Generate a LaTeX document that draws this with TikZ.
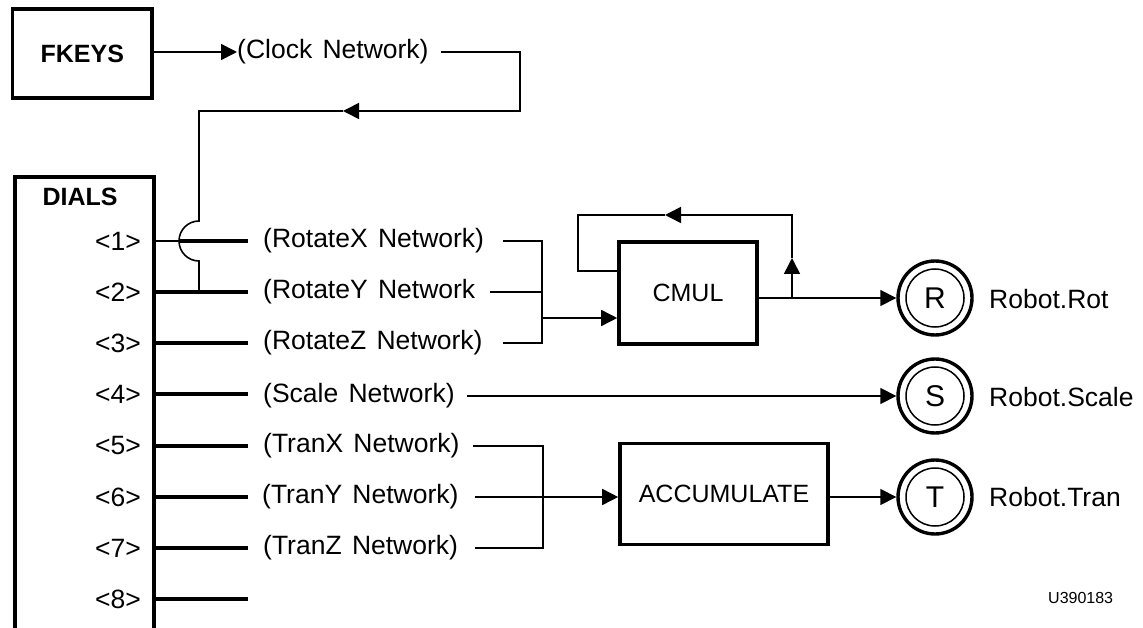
\documentclass[tikz,border=0pt]{standalone}
\usepackage{fontspec}
\setmainfont{Liberation Sans}[WordSpace=1.4]
\usetikzlibrary{arrows.meta}
\begin{document}
\begin{tikzpicture}[x=1pt,y=-1pt,
  conn/.style={line width=1.6pt},
  heavy/.style={line width=3.4pt},
  tip/.style={-{Triangle[length=16pt,width=16pt]}},
  box/.style={draw, rectangle, line width=3.6pt, inner sep=0pt, font=\fontsize{25}{30}\selectfont},
  lbl/.style={inner sep=0pt, font=\fontsize{26.5}{30}\selectfont},
  circ/.style={draw, circle, line width=3.4pt, minimum size=74pt, inner sep=0pt, font=\fontsize{30}{34}\selectfont},
  inner/.style={line width=1.5pt}
]
\useasboundingbox (0,0) rectangle (1143,628);
\clip (0,0) rectangle (1143,628);

% FKEYS and clock network
\node[box, font=\fontsize{25}{30}\selectfont\bfseries, minimum width=139.5pt, minimum height=89pt] (fk) at (82.25,53.5) {FKEYS};
\node[lbl, anchor=west] (clk) at (237,52) {(Clock Network)};
\draw[conn, tip] (fk.east |- clk.west) -- (clk.west);

\coordinate (ck0) at (441,52);
\coordinate (ck1) at (520,52);
\coordinate (ck2) at (520,111);
\coordinate (ck3) at (343,111);
\coordinate (ck4) at (199,111);
\coordinate (j1) at (199,221);
\coordinate (j3) at (199,292);
\draw[conn, tip] (ck0) -- (ck1) -- (ck2) -- (ck3);
\draw[conn] (ck3) -- (ck4) -- (j1) arc[start angle=90, end angle=270, radius=20pt] -- (j3);

% DIALS
\node[box, anchor=north west, minimum width=139pt, minimum height=480pt] (dials) at (13,175) {};
\node[lbl, font=\fontsize{25}{30}\selectfont\bfseries] (dialslbl) at (80,197) {DIALS};

\foreach \i/\y in {1/241,2/292,3/343,4/394,5/446,6/497,7/548,8/599}{
  \coordinate (p\i) at (152,\y);
  \coordinate (d\i) at (248,\y);
  \node[lbl, anchor=east] (n\i) at (141,\y) {<\i>};
}
\coordinate (q1) at (180,241);
\draw[conn] (p1) -- (q1);
\draw[heavy] (q1) -- (d1);
\foreach \i in {2,...,8}{\draw[heavy] (p\i) -- (d\i);}

% network labels
\node[lbl, anchor=west] (rx) at (263,241) {(RotateX Network)};
\node[lbl, anchor=west] (ry) at (263,292) {(RotateY Network};
\node[lbl, anchor=west] (rz) at (263,343) {(RotateZ Network)};
\node[lbl, anchor=west] (sc) at (263,396) {(Scale Network)};
\node[lbl, anchor=west] (tx) at (263,446) {(TranX Network)};
\node[lbl, anchor=west] (ty) at (262,497) {(TranY Network)};
\node[lbl, anchor=west] (tz) at (263,548) {(TranZ Network)};

% CMUL
\node[box, minimum width=138pt, minimum height=102pt] (cmul) at (688,293) {CMUL};
\coordinate (rxs) at (503,241); \coordinate (rxb) at (542,241);
\coordinate (rys) at (490,292); \coordinate (ryb) at (542,292);
\coordinate (rzs) at (503,343); \coordinate (rzb) at (542,343);
\coordinate (rin) at (542,318);
\draw[conn] (rxs) -- (rxb) -- (rzb) -- (rzs);
\draw[conn] (rys) -- (ryb);
\draw[conn, tip] (rin) -- (cmul.west |- rin);

% CMUL feedback and output
\node[circ] (R) at (935,298) {R};
\draw[inner] (R.center) circle[radius=29pt];
\coordinate (fb0) at (792,298);
\coordinate (fb1) at (792,258);
\coordinate (fb2) at (792,215);
\coordinate (fb3) at (665,215);
\coordinate (fb4) at (578,215);
\coordinate (fb5) at (578,271);
\draw[conn] (cmul.east |- fb0) -- (fb0);
\draw[conn, tip] (fb0) -- (R.west);
\draw[conn, tip] (fb0) -- (fb1);
\draw[conn, tip] (fb1) -- (fb2) -- (fb3);
\draw[conn] (fb3) -- (fb4) -- (fb5) -- (cmul.west |- fb5);
\node[lbl, anchor=west] (rl) at (989,299) {Robot.Rot};

% Scale
\node[circ] (S) at (935,396) {S};
\draw[inner] (S.center) circle[radius=29pt];
\coordinate (scs) at (467,396);
\draw[conn, tip] (scs) -- (S.west);
\node[lbl, anchor=west] (sl) at (989,397) {Robot.Scale};

% ACCUMULATE
\node[box, minimum width=208pt, minimum height=101pt] (acc) at (724,494) {ACCUMULATE};
\coordinate (txs) at (473,446); \coordinate (txb) at (543,446);
\coordinate (tys) at (475,497); \coordinate (tyb) at (543,497);
\coordinate (tzs) at (475,548); \coordinate (tzb) at (543,548);
\draw[conn] (txs) -- (txb) -- (tzb) -- (tzs);
\draw[conn] (tys) -- (tyb);
\draw[conn, tip] (tyb) -- (acc.west |- tyb);

\node[circ] (T) at (935,497) {T};
\draw[inner] (T.center) circle[radius=29pt];
\draw[conn, tip] (acc.east |- T.west) -- (T.west);
\node[lbl, anchor=west] (tl) at (989,497) {Robot.Tran};

\node[inner sep=0pt, anchor=west, font=\fontsize{16}{19}\selectfont] (code) at (1048,598) {U390183};
\end{tikzpicture}
\end{document}
